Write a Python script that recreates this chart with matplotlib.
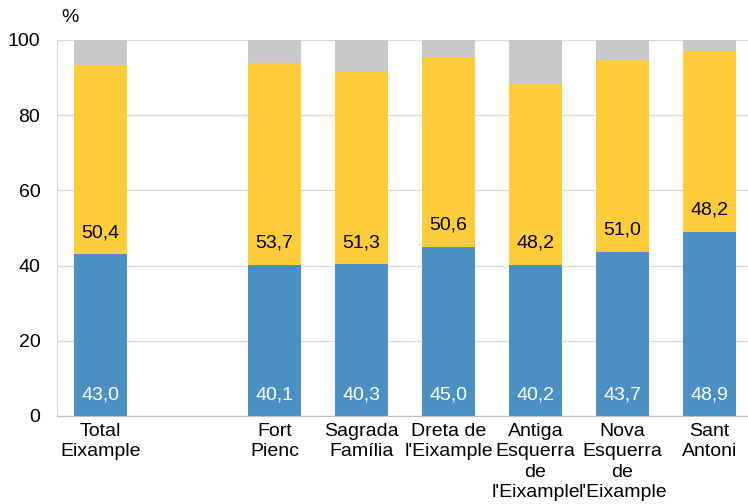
import matplotlib
matplotlib.use("Agg")
import matplotlib.pyplot as plt
import numpy as np

plt.rcParams['font.family'] = ['Liberation Sans', 'DejaVu Sans']

categories = ["Total\nEixample", "", "Fort\nPienc", "Sagrada\nFamília", "Dreta de\nl'Eixample",
              "Antiga\nEsquerra\nde\nl'Eixample", "Nova\nEsquerra\nde\nl'Eixample", "Sant\nAntoni"]
positions = [0, 2, 3, 4, 5, 6, 7]
blue_vals = [43.0, 40.1, 40.3, 45.0, 40.2, 43.7, 48.9]
yellow_vals = [50.4, 53.7, 51.3, 50.6, 48.2, 51.0, 48.2]
gray_vals = [100 - b - y for b, y in zip(blue_vals, yellow_vals)]

blue = "#4a90c2"
yellow = "#ffcc3a"
gray = "#c8c8c8"
fs = 14

fig = plt.figure(figsize=(7.48, 5.04), dpi=100)
ax = fig.add_axes([57 / 748, 1 - 416 / 504, 696 / 748, 376 / 504])

w = 0.62
b = np.array(blue_vals)
y = np.array(yellow_vals)
g = np.array(gray_vals)
ax.bar(positions, b, w, color=blue, zorder=3)
ax.bar(positions, y, w, bottom=b, color=yellow, zorder=3)
ax.bar(positions, g, w, bottom=b + y, color=gray, zorder=3)

def fmt(v):
    return f"{v:.1f}".replace(".", ",")

for p, bv, yv in zip(positions, blue_vals, yellow_vals):
    ax.text(p, 5.6, fmt(bv), ha="center", va="center", color="white", fontsize=fs, zorder=4)
    ax.text(p, bv + 5.8, fmt(yv), ha="center", va="center", color="black", fontsize=fs, zorder=4)

ax.set_xlim(-0.5, 7.5)
ax.set_ylim(0, 100)
ax.set_yticks(range(0, 101, 20))
ax.set_xticks(range(len(categories)))
ax.set_xticklabels(categories, fontsize=fs, linespacing=1.27)
ax.tick_params(axis="y", labelsize=fs, length=0, pad=12)
ax.tick_params(axis="x", length=0, pad=5)
ax.grid(axis="y", color="#d9d9d9", linewidth=1, zorder=0)
for s in ["top", "right"]:
    ax.spines[s].set_visible(False)
ax.spines["left"].set_color("#d9d9d9")
ax.spines["bottom"].set_color("#bfbfbf")
ax.spines["bottom"].set_zorder(5)

fig.text(70 / 748, 1 - 18 / 504, "%", ha="center", va="center", fontsize=fs)

fig.savefig("out.png", dpi=100)
